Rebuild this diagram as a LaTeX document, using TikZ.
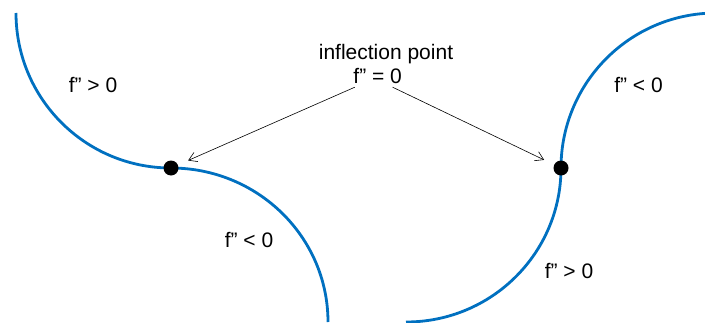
\documentclass[tikz,border=0pt]{standalone}
\usepackage{fontspec}
\setmainfont{Liberation Sans}
\usetikzlibrary{positioning,arrows.meta}
\definecolor{curveblue}{RGB}{0,112,192}

\begin{document}
\begin{tikzpicture}[
  x=1bp, y=1bp,
  font=\fontsize{21bp}{24bp}\selectfont,
  crv/.style={draw=curveblue, line width=2.8bp},
  dot/.style={circle, fill=black, minimum size=15bp, inner sep=0pt},
  lbl/.style={anchor=base, inner sep=0pt},
  ptr/.style={-{Straight Barb[length=8bp,width=10bp]}, line width=0.6bp, shorten >=11bp}
]
\useasboundingbox (0,0) rectangle (705,322);

% the two curves
\draw[crv] (16,309) arc[start angle=180, end angle=270, radius=155]
           arc[start angle=90, end angle=0, x radius=157, y radius=154];
\draw[crv] (406,0) arc[start angle=270, end angle=360, x radius=155, y radius=154]
           arc[start angle=180, end angle=94, radius=155];

\node[dot] (lft) at (171,154) {};
\node[dot] (rgt) at (561,154) {};

\node[lbl] (ip)   at (386,262.7) {inflection point};
\node[lbl] (zero) at (377.7,238.7) {f” = 0};

\node[lbl] (ca) at (93,230)    {f” > 0};
\node[lbl] (cb) at (249,75)    {f” < 0};
\node[lbl] (cc) at (638.5,230) {f” < 0};
\node[lbl] (cd) at (569,44)    {f” > 0};

\draw[ptr] ([shift={(1.5,-3.5)}]zero.south west) -- (lft);
\draw[ptr] ([shift={(-9.5,-3.5)}]zero.south east) -- (rgt);
\end{tikzpicture}
\end{document}
